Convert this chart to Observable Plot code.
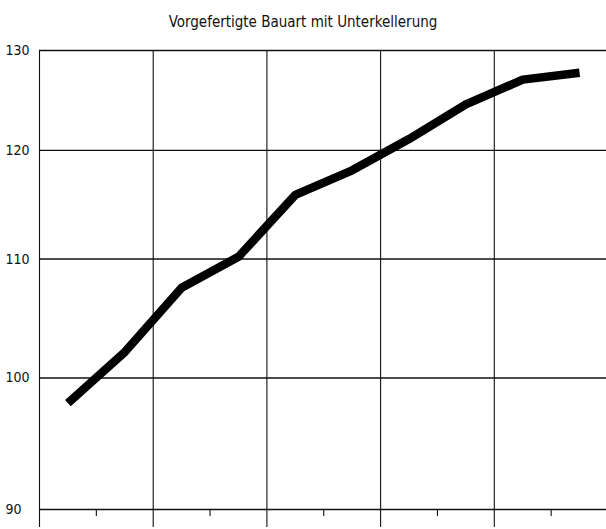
<!DOCTYPE html>
<html>
<head>
<meta charset="utf-8">
<script src="https://cdn.jsdelivr.net/npm/d3@7"></script>
<script src="https://cdn.jsdelivr.net/npm/@observablehq/plot@0.6"></script>
<style>
  html, body { margin: 0; padding: 0; background: #fff; }
  #chart svg { display: block; }
</style>
</head>
<body>
<div id="chart"></div>
<script>
const title = "Vorgefertigte Bauart mit Unterkellerung";
const periods = [1, 2, 3, 4, 5, 6, 7, 8, 9, 10];
const values = [98.0, 102.1, 107.5, 110.2, 115.8, 118.1, 121.1, 124.5, 127.0, 127.7];
const yTicks = [90, 100, 110, 120, 130];
const xMajor = [0.5, 2.5, 4.5, 6.5, 8.5, 10.5];
const xMinor = [1.5, 3.5, 5.5, 7.5, 9.5];

const data = periods.map((p, i) => ({period: p, value: values[i]}));
const font = "'DejaVu Sans Condensed', 'Liberation Sans Narrow', sans-serif";

const chart = Plot.plot({
  width: 606,
  height: 529,
  marginTop: 50,
  marginBottom: 20,
  marginLeft: 39,
  marginRight: 0,
  style: {background: "#fff", fontFamily: font},
  x: {domain: [0.5, 10.5], range: [39, 607.5], axis: null},
  y: {type: "log", domain: [90, 130], axis: null},
  marks: [
    Plot.ruleY(yTicks, {y: d => d, stroke: "#111", strokeWidth: 1.4}),
    Plot.ruleX(xMajor, {x: d => d, stroke: "#111", strokeWidth: 1.1, insetBottom: -18}),
    Plot.axisX(xMinor, {tickSize: 7, tickFormat: () => "", label: null, stroke: "#111", strokeWidth: 1.1}),
    Plot.text(yTicks, {y: d => d, text: d => String(d), frameAnchor: "left", textAnchor: "start", dx: -34, fontSize: 14, fill: "#111", fontFamily: font}),
    Plot.line(data, {x: "period", y: "value", stroke: "#000", strokeWidth: 8.5, strokeLinejoin: "round", strokeLinecap: "butt"}),
    Plot.text([title], {frameAnchor: "top", dx: -20, dy: -34, fontSize: 15, fill: "#111", fontFamily: font})
  ]
});
document.getElementById("chart").appendChild(chart);
</script>
</body>
</html>
